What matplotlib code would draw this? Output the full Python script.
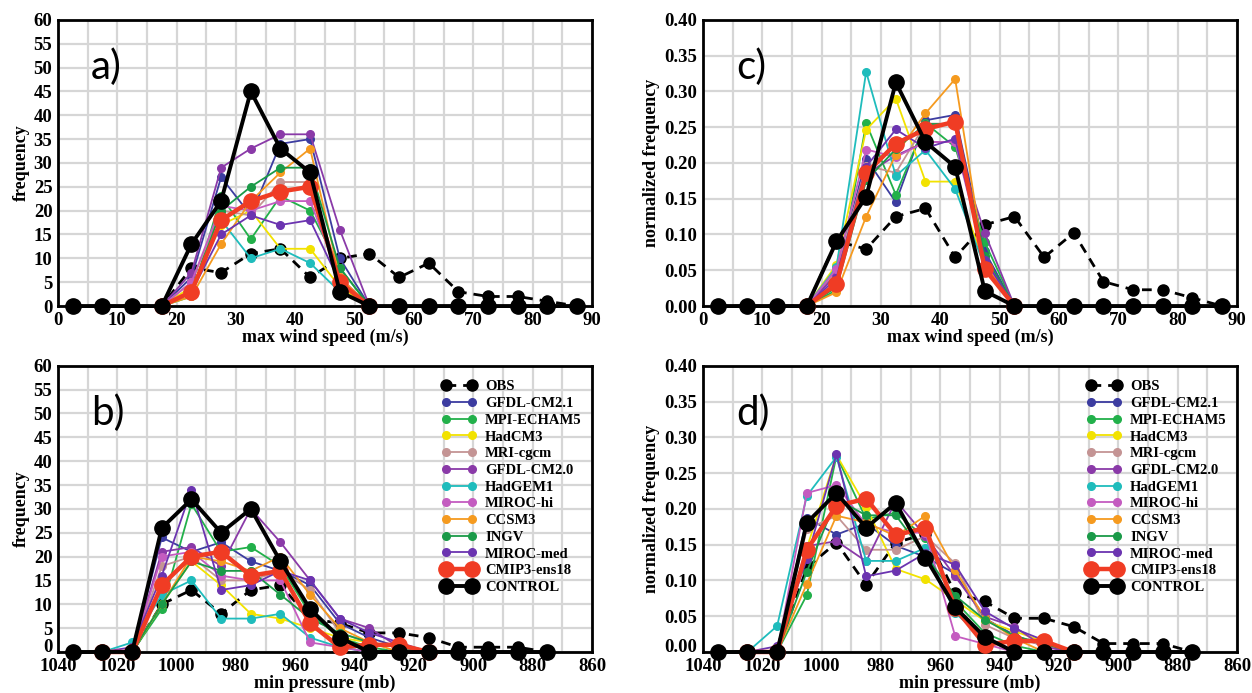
import numpy as np
import matplotlib
matplotlib.use('Agg')
import matplotlib.pyplot as plt
from matplotlib.ticker import MultipleLocator, FormatStrFormatter
from matplotlib.transforms import ScaledTranslation

# bin centres
wind_bins = [2.5, 7.5, 12.5, 17.5, 22.5, 27.5, 32.5, 37.5, 42.5, 47.5, 52.5,
             57.5, 62.5, 67.5, 72.5, 77.5, 82.5, 87.5]
wind_model_bins = [17.5, 22.5, 27.5, 32.5, 37.5, 42.5, 47.5, 52.5]
pres_bins = [1035, 1025, 1015, 1005, 995, 985, 975, 965, 955, 945, 935, 925,
             915, 905, 895, 885, 875]
pres_model_bins = [1025, 1015, 1005, 995, 985, 975, 965, 955, 945, 935, 925, 915]

# observations and control run (all bins)
obs_wind = [0, 0, 0, 0, 8, 7, 11, 12, 6, 10, 11, 6, 9, 3, 2, 2, 1, 0]
control_wind = [0, 0, 0, 0, 13, 22, 45, 33, 28, 3, 0, 0, 0, 0, 0, 0, 0, 0]
obs_pres = [0, 0, 0, 10, 13, 8, 13, 14, 7, 6, 4, 4, 3, 1, 1, 1, 0]
control_pres = [0, 0, 0, 26, 32, 25, 30, 19, 9, 3, 0, 0, 0, 0, 0, 0, 0]

# CMIP3 models (model bins)
gfdl21_wind = [0, 6, 27, 19, 34, 35, 10, 0]
mpi_wind = [0, 2, 23, 14, 23, 20, 8, 0]
hadcm3_wind = [0, 4, 17, 20, 12, 12, 4, 0]
mri_wind = [0, 5, 20, 19, 26, 26, 6, 0]
gfdl20_wind = [0, 7, 29, 33, 36, 36, 16, 0]
hadgem_wind = [0, 3, 18, 10, 12, 9, 3, 0]
mirochi_wind = [0, 5, 21, 20, 22, 22, 6, 0]
ccsm_wind = [0, 2, 13, 22, 28, 33, 6, 0]
ingv_wind = [0, 3, 20, 25, 29, 29, 8, 0]
mirocmed_wind = [0, 3, 15, 19, 17, 18, 5, 0]
ens_wind = [0, 3, 18, 22, 24, 25, 5, 0]

gfdl21_pres = [0, 0, 24, 21, 23, 19, 17, 14, 6, 3, 1, 0]
mpi_pres = [0, 0, 9, 31, 21, 22, 18, 8, 3, 1, 0, 0]
hadcm3_pres = [0, 0, 10, 19, 14, 8, 7, 5, 3, 2, 1, 0]
mri_pres = [0, 0, 18, 20, 15, 15, 17, 13, 4, 2, 1, 0]
gfdl20_pres = [0, 0, 21, 22, 18, 30, 23, 15, 7, 5, 1, 0]
hadgem_pres = [0, 2, 12, 15, 7, 7, 8, 3, 1, 0, 0, 0]
mirochi_pres = [0, 0, 20, 21, 16, 15, 15, 2, 1, 0, 0, 0]
ccsm_pres = [0, 0, 10, 20, 19, 17, 20, 12, 5, 2, 0, 0]
ingv_pres = [0, 0, 10, 19, 17, 17, 12, 7, 4, 2, 1, 0]
mirocmed_pres = [0, 1, 16, 34, 13, 14, 17, 15, 7, 4, 2, 0]
ens_pres = [0, 0, 14, 20, 21, 16, 17, 6, 1, 1.5, 1.5, 0]

model_names = ['GFDL-CM2.1', 'MPI-ECHAM5', 'HadCM3', 'MRI-cgcm', 'GFDL-CM2.0',
               'HadGEM1', 'MIROC-hi', 'CCSM3', 'INGV', 'MIROC-med']
model_colors = ['#3c3ca0', '#22b04a', '#f2e200', '#c49494', '#8a3aa8',
                '#1fbcbc', '#c45cc0', '#f59a1f', '#1a9a48', '#6b34b0']
models_wind = [gfdl21_wind, mpi_wind, hadcm3_wind, mri_wind, gfdl20_wind,
               hadgem_wind, mirochi_wind, ccsm_wind, ingv_wind, mirocmed_wind]
models_pres = [gfdl21_pres, mpi_pres, hadcm3_pres, mri_pres, gfdl20_pres,
               hadgem_pres, mirochi_pres, ccsm_pres, ingv_pres, mirocmed_pres]

SERIF = 'Liberation Serif'
GRID = '#d6d6d6'


def norm(vals, normalized):
    vals = np.asarray(vals, dtype=float)
    return vals / vals.sum() if normalized else vals


def draw_series(ax, bins, model_bins, obs, models, ens, control, normalized):
    ax.plot(bins, norm(obs, normalized), color='k', ls=(0, (3.5, 2.5)), lw=2,
            marker='o', ms=8, label='OBS', clip_on=False, zorder=3)
    for name, col, vals in zip(model_names, model_colors, models):
        ax.plot(model_bins, norm(vals, normalized), color=col, lw=1.3,
                marker='o', ms=5.5, label=name, clip_on=False, zorder=4)
    ax.plot(model_bins, norm(ens, normalized), color='#f03c24', lw=3.2,
            marker='o', ms=11, label='CMIP3-ens18', clip_on=False, zorder=5)
    ax.plot(bins, norm(control, normalized), color='k', lw=2.8,
            marker='o', ms=11, label='CONTROL', clip_on=False, zorder=6)


def style_axes(ax, letter, is_wind, normalized, ylabel, xlabel):
    if is_wind:
        ax.set_xlim(0, 90)
        ax.xaxis.set_major_locator(MultipleLocator(10))
        ax.xaxis.set_minor_locator(MultipleLocator(5))
    else:
        ax.set_xlim(1040, 860)
        ax.xaxis.set_major_locator(MultipleLocator(20))
        ax.xaxis.set_minor_locator(MultipleLocator(10))
    if normalized:
        ax.set_ylim(0, 0.40)
        ax.yaxis.set_major_locator(MultipleLocator(0.05))
        ax.yaxis.set_major_formatter(FormatStrFormatter('%.2f'))
    else:
        ax.set_ylim(0, 60)
        ax.yaxis.set_major_locator(MultipleLocator(5))
    ax.set_axisbelow(True)
    ax.grid(which='both', color=GRID, lw=1.6)
    ax.tick_params(which='both', length=0, pad=4)
    for lab in ax.get_xticklabels() + ax.get_yticklabels():
        lab.set_family(SERIF)
        lab.set_weight('bold')
        lab.set_fontsize(13.5)
    for sp in ax.spines.values():
        sp.set_linewidth(2)
    ax.set_ylabel(ylabel, family=SERIF, weight='bold', fontsize=13, labelpad=3)
    ax.set_xlabel(xlabel, family=SERIF, weight='bold', fontsize=13, labelpad=0)
    ax.text(0.062, 0.835, letter, transform=ax.transAxes, fontsize=29,
            family='Lato', va='center', ha='left')


def main():
    fig = plt.figure(figsize=(12.52, 6.93), dpi=100)
    w, h = 0.4265, 0.413
    ax_a = fig.add_axes([0.0463, 0.5584, w, h])
    ax_c = fig.add_axes([0.5615, 0.5584, w, h])
    ax_b = fig.add_axes([0.0463, 0.0592, w, h])
    ax_d = fig.add_axes([0.5615, 0.0592, w, h])

    draw_series(ax_a, wind_bins, wind_model_bins, obs_wind, models_wind,
                ens_wind, control_wind, False)
    draw_series(ax_c, wind_bins, wind_model_bins, obs_wind, models_wind,
                ens_wind, control_wind, True)
    draw_series(ax_b, pres_bins, pres_model_bins, obs_pres, models_pres,
                ens_pres, control_pres, False)
    draw_series(ax_d, pres_bins, pres_model_bins, obs_pres, models_pres,
                ens_pres, control_pres, True)

    style_axes(ax_a, 'a)', True, False, 'frequency', 'max wind speed (m/s)')
    style_axes(ax_c, 'c)', True, True, 'normalized frequency', 'max wind speed (m/s)')
    style_axes(ax_b, 'b)', False, False, 'frequency', 'min pressure (mb)')
    style_axes(ax_d, 'd)', False, True, 'normalized frequency', 'min pressure (mb)')

    for ax in (ax_b, ax_d):
        ax.legend(loc='upper right', bbox_to_anchor=(1.0, 0.985), frameon=False,
                  numpoints=2, handlelength=2.4, handletextpad=0.6,
                  labelspacing=0.24, borderaxespad=0.3,
                  prop=dict(family=SERIF, weight='bold', size=10.5))

    # lift the zero label a little so it sits above the 1040 tick label
    fig.canvas.draw()
    lift = ScaledTranslation(0, 5 / 72, fig.dpi_scale_trans)
    for ax in (ax_b, ax_d):
        for tick in ax.yaxis.get_major_ticks():
            if abs(tick.get_loc()) < 1e-9:
                tick.label1.set_transform(tick.label1.get_transform() + lift)

    fig.savefig('out.png', dpi=100, facecolor='white')


if __name__ == "__main__":
    main()
